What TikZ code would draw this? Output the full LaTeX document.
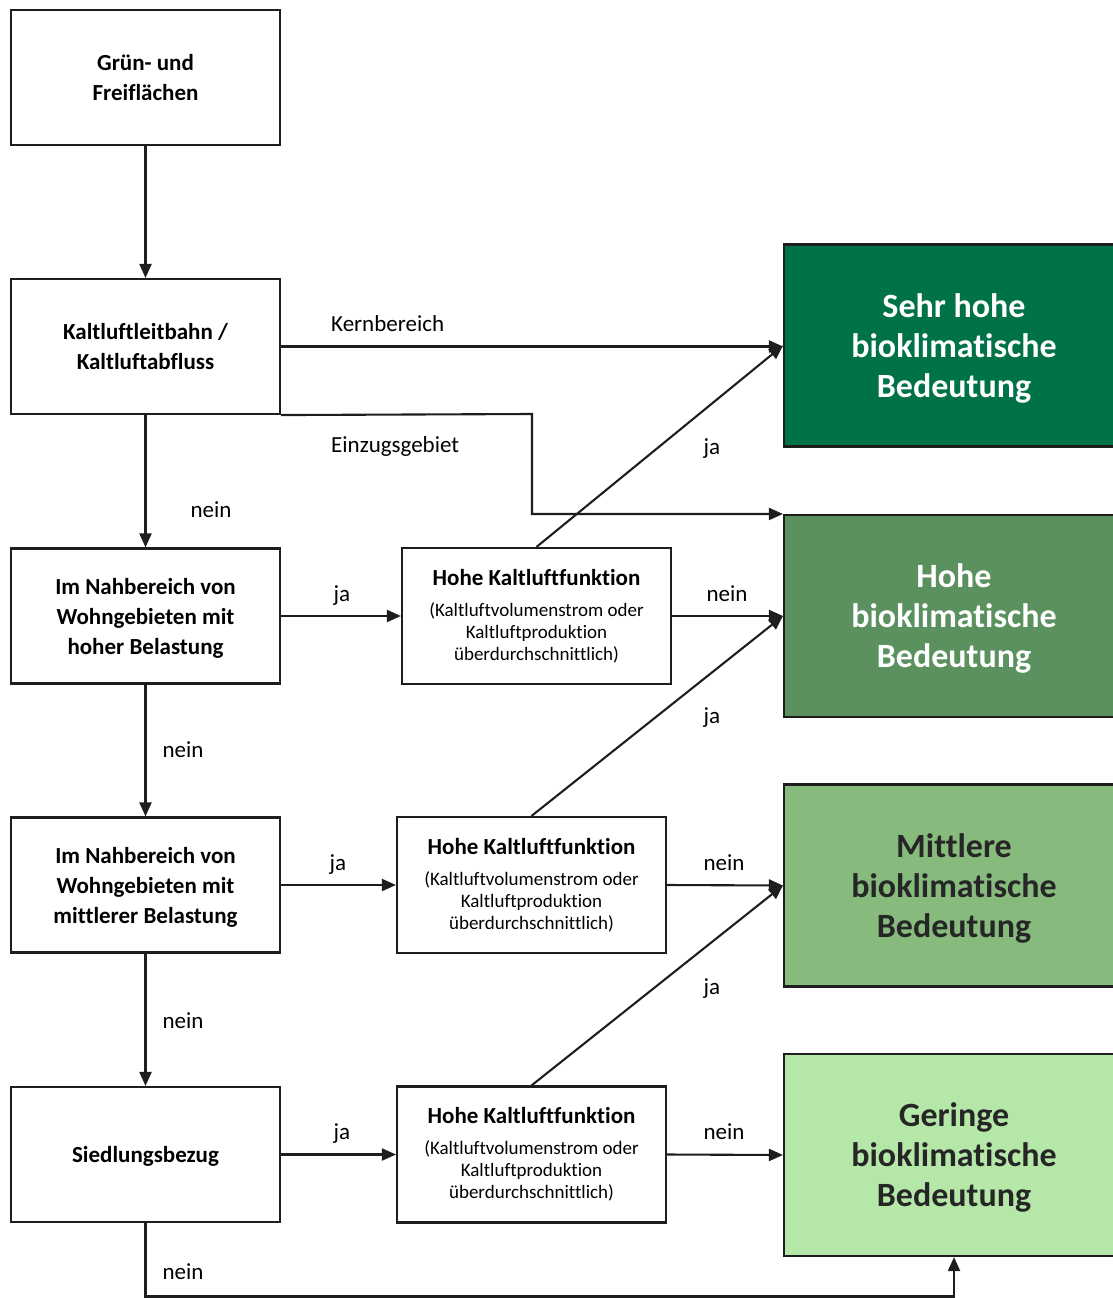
\documentclass[tikz,border=0pt]{standalone}
\usepackage{fontspec}
\setmainfont{Carlito}[Ligatures={NoCommon}]
\usetikzlibrary{arrows.meta}

\definecolor{linegray}{RGB}{30,30,30}
\definecolor{gsehr}{RGB}{0,114,72}
\definecolor{ghoch}{RGB}{90,145,95}
\definecolor{gmittel}{RGB}{134,187,125}
\definecolor{ggering}{RGB}{181,232,168}

\begin{document}
\begin{tikzpicture}[x=1pt,y=-1pt,
  box/.style={draw=linegray, line width=2.1pt, fill=white,
    minimum width=269pt, minimum height=135pt, inner sep=0pt,
    text depth=0pt, align=center, font=\fontsize{23}{30}\selectfont\bfseries},
  kbox/.style={draw=linegray, line width=2.1pt, fill=white,
    minimum width=269pt, minimum height=136pt, inner sep=0pt,
    align=center, font=\fontsize{23}{30}\selectfont},
  result/.style={draw=linegray, line width=2.1pt,
    minimum width=340pt, minimum height=202pt, inner sep=0pt,
    text depth=0pt, align=center, font=\fontsize{34}{40}\selectfont\bfseries},
  conn/.style={draw=linegray, line width=2.1pt,
    -{Triangle[length=14pt,width=12pt]}},
  lab/.style={font=\fontsize{23}{26}\selectfont, inner sep=0pt, anchor=base},
  labw/.style={lab, anchor=base west}
]
\useasboundingbox (0,0) rectangle (1112,1298);

% left column
\node[box] (A)  at (145.5,77.5)   {Grün- und\\Freiflächen};
\node[box] (B)  at (145.5,346.5)  {Kaltluftleitbahn /\\Kaltluftabfluss};
\node[box] (C1) at (145.5,616)    {Im Nahbereich von\\Wohngebieten mit\\hoher Belastung};
\node[box] (C2) at (145.5,885)    {Im Nahbereich von\\Wohngebieten mit\\mittlerer Belastung};
\node[box] (C3) at (145.5,1154.5) {Siedlungsbezug};

% cold air function checks
\newcommand{\kfunk}{{\bfseries Hohe Kaltluftfunktion}\\[1pt]
  {\fontsize{19}{22}\selectfont (Kaltluftvolumenstrom oder}\\[-8pt]
  {\fontsize{19}{22}\selectfont Kaltluftproduktion}\\[-8pt]
  {\fontsize{19}{22}\selectfont überdurchschnittlich)}}
\node[kbox] (K1) at (536.5,616)    {\kfunk};
\node[kbox] (K2) at (531.5,885)    {\kfunk};
\node[kbox] (K3) at (531.5,1154.5) {\kfunk};

% result classes
\node[result, fill=gsehr, text=white]  (sh) at (954,345.5) {Sehr hohe\\bioklimatische\\Bedeutung};
\node[result, fill=ghoch, text=white]  (hh) at (954,616)   {Hohe\\bioklimatische\\Bedeutung};
\node[result, fill=gmittel, text=black!85] (mi) at (954,885.5) {Mittlere\\bioklimatische\\Bedeutung};
\node[result, fill=ggering, text=black!85] (ge) at (954,1155)  {Geringe\\bioklimatische\\Bedeutung};

\coordinate (kink) at (532,414);
\coordinate (low)  at (0,1296.5);

% connectors
\draw[conn] (A) -- (B);
\draw[conn] (B.east) -- (B.east -| sh.west);
\draw[conn] (B.south east) -- (kink) |- (hh.north west);
\draw[conn] (B) -- (C1);
\draw[conn] (C1) -- (K1);
\draw[conn] (K1.north) -- (sh.west);
\draw[conn] (K1.east) -- (hh.west);
\draw[conn] (C1) -- (C2);
\draw[conn] (C2) -- (K2);
\draw[conn] (K2.north) -- (hh.west);
\draw[conn] (K2.east) -- (mi.west);
\draw[conn] (C2) -- (C3);
\draw[conn] (C3) -- (K3);
\draw[conn] (K3.north) -- (mi.west);
\draw[conn] (K3.east) -- (ge.west);
\draw[conn] (C3.south) -- (C3.south |- low) -| (ge.south);

% connector labels
\node[labw] (l1)  at (331,331)  {Kernbereich};
\node[labw] (l2)  at (331,452)  {Einzugsgebiet};
\node[lab]  (l3)  at (211,517)  {nein};
\node[lab]  (l4)  at (342,601)  {ja};
\node[lab]  (l5)  at (712,454)  {ja};
\node[lab]  (l6)  at (727,601)  {nein};
\node[lab]  (l7)  at (183,757)  {nein};
\node[lab]  (l8)  at (338,870)  {ja};
\node[lab]  (l9)  at (712,723)  {ja};
\node[lab]  (l10) at (724,870)  {nein};
\node[lab]  (l11) at (183,1028) {nein};
\node[lab]  (l12) at (342,1139) {ja};
\node[lab]  (l13) at (712,994)  {ja};
\node[lab]  (l14) at (724,1139) {nein};
\node[lab]  (l15) at (183,1279) {nein};
\end{tikzpicture}
\end{document}
